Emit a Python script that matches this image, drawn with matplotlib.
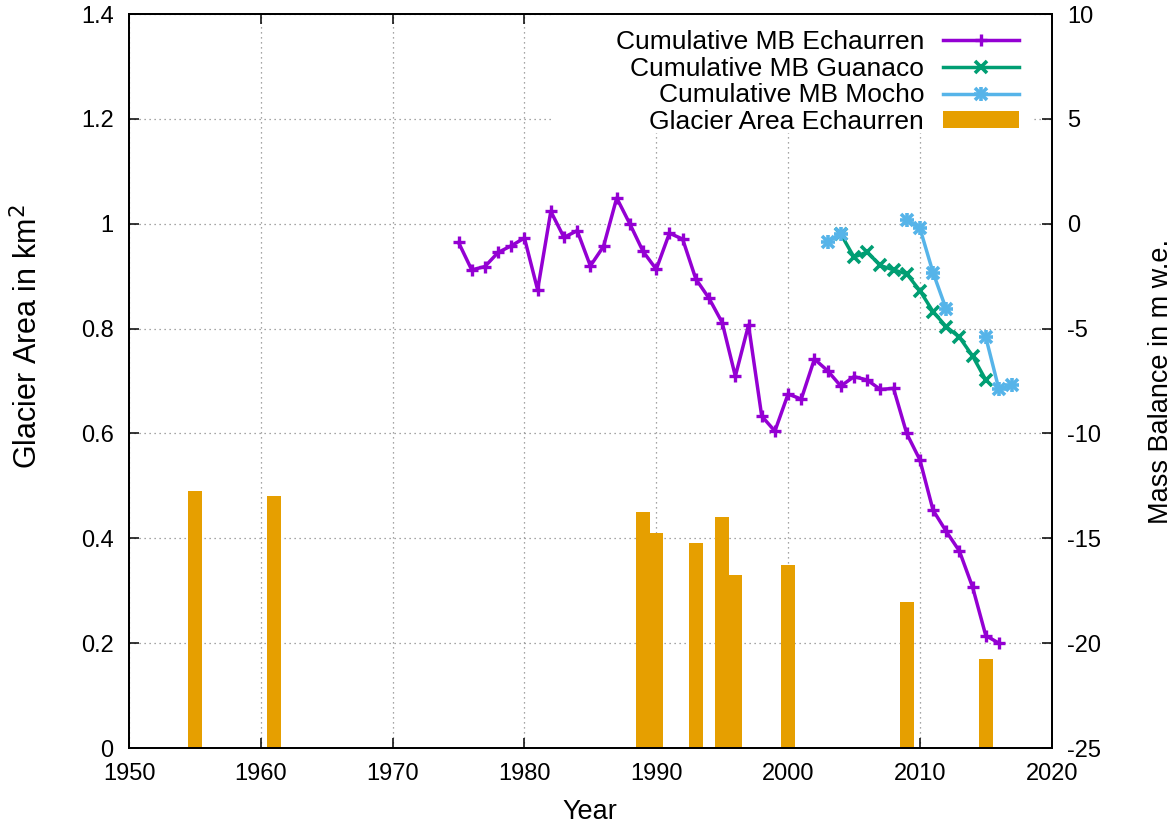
import numpy as np
import matplotlib.pyplot as plt
from matplotlib.patches import Rectangle
from matplotlib.ticker import FuncFormatter

plt.rcParams['font.family'] = ['Liberation Sans', 'DejaVu Sans']
plt.rcParams['axes.unicode_minus'] = False

# cumulative mass balance (m w.e.)
years_ech = list(range(1975, 2017))
mb_ech = [-0.89, -2.20, -2.04, -1.37, -1.05, -0.68, -3.15, 0.59, -0.65, -0.33,
          -2.01, -1.08, 1.23, -0.01, -1.32, -2.17, -0.45, -0.73, -2.63, -3.55,
          -4.71, -7.27, -4.83, -9.17, -9.89, -8.12, -8.36, -6.45, -7.01, -7.74,
          -7.29, -7.45, -7.90, -7.85, -10.0, -11.26, -13.66, -14.67, -15.61, -17.33,
          -19.64, -20.0]

years_gua = list(range(2004, 2016))
mb_gua = [-0.49, -1.59, -1.35, -1.99, -2.20, -2.39, -3.19, -4.19, -4.91, -5.41,
          -6.31, -7.45]

years_moc = list(range(2003, 2018))
mb_moc = [-0.85, -0.49, np.nan, np.nan, np.nan, np.nan, 0.19, -0.21, -2.33, -4.08,
          np.nan, np.nan, -5.41, -7.90, -7.69]

# glacier area (km2)
years_area = [1955, 1961, 1989, 1990, 1993, 1995, 1996, 2000, 2009, 2015]
area_ech = [0.490, 0.480, 0.450, 0.410, 0.391, 0.440, 0.330, 0.350, 0.279, 0.169]

fig = plt.figure(figsize=(11.76, 8.27), dpi=100)
ax = fig.add_axes([0.1097, 0.0955, 0.7846, 0.8875])
ax2 = ax.twinx()

bars = ax.bar(years_area, area_ech, width=1.08, color='#e69f00', label='Glacier Area Echaurren')

l1, = ax2.plot(years_ech, mb_ech, '-', color='#9400d3', lw=2.5, marker='+', ms=9, mew=2.4)
l2, = ax2.plot(years_gua, mb_gua, '-', color='#009e73', lw=2.5, marker='x', ms=8, mew=2.6)
# gnuplot point type 3 = "+" and "x" on top of each other
l3, = ax2.plot(years_moc, mb_moc, '-', color='#56b4e9', lw=2.5, marker='+', ms=10, mew=2.6)
l3b, = ax2.plot(years_moc, mb_moc, ' ', color='#56b4e9', marker='x', ms=8, mew=2.6)

ax.set_xlim(1950, 2020)
ax.set_ylim(0, 1.4)
ax2.set_ylim(-25, 10)
ax.set_xticks(range(1950, 2021, 10))
ax.set_yticks(np.arange(0, 1.41, 0.2))
ax2.set_yticks(range(-25, 11, 5))
ax.yaxis.set_major_formatter(FuncFormatter(lambda v, p: '%g' % round(v, 2)))

ax.grid(True, linestyle=(0, (1, 3)), color='#888888', lw=0.9)
ax.set_axisbelow(True)

# white box behind the key, like gnuplot's opaque key
ax.add_patch(Rectangle((0.46, 0.838), 0.519, 0.162, transform=ax.transAxes,
                       facecolor='white', edgecolor='none', zorder=1))

for a in (ax, ax2):
    for s in a.spines.values():
        s.set_linewidth(1.3)
ax.tick_params(axis='both', direction='in', length=7, width=1.1, labelsize=17)
ax.tick_params(axis='x', top=True, pad=11)
ax.tick_params(axis='y', right=False, pad=11)
ax2.tick_params(axis='y', direction='in', length=7, width=1.1, labelsize=17, pad=11)

ax.set_xlabel('Year', fontsize=19.5, labelpad=10)
ax.set_ylabel('Glacier Area in km$^2$', fontsize=22, labelpad=26)
ax2.set_ylabel('Mass Balance in m w.e.', fontsize=19.5, labelpad=34)
ax.yaxis.label.set_y(0.56)

leg = ax2.legend([l1, l2, (l3, l3b), bars],
                 ['Cumulative MB Echaurren', 'Cumulative MB Guanaco',
                  'Cumulative MB Mocho', 'Glacier Area Echaurren'],
                 loc='upper right', bbox_to_anchor=(0.9646, 0.978), borderaxespad=0,
                 markerfirst=False, fontsize=19, handlelength=2.9, handletextpad=0.7,
                 labelspacing=0.1, frameon=False, borderpad=0, handleheight=0.6)

plt.savefig('out.png', dpi=100)
